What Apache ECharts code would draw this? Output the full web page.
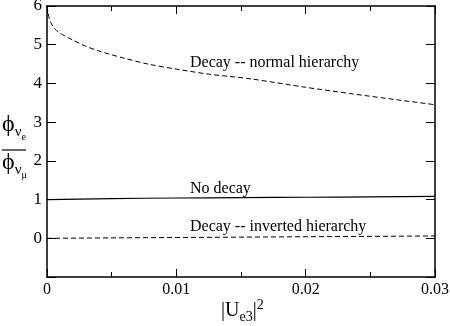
<!DOCTYPE html>
<html><head><meta charset="utf-8">
<script src="https://cdn.jsdelivr.net/npm/echarts@6/dist/echarts.min.js"></script>
<style>html,body{margin:0;padding:0;background:#fff}#c{width:450px;height:326px}</style>
</head><body><div id="c"></div>
<script>
var normalX = [0, 0.0001, 0.0002, 0.0005, 0.001, 0.002, 0.003, 0.004, 0.005, 0.006, 0.0078, 0.01, 0.0125, 0.0157, 0.02, 0.0234, 0.027, 0.03];
var normalY = [6.0, 5.8, 5.65, 5.45, 5.3, 5.12, 4.96, 4.84, 4.74, 4.65, 4.5, 4.37, 4.24, 4.12, 3.9, 3.74, 3.58, 3.45];
var noDecayX = [0, 0.005, 0.01, 0.015, 0.02, 0.025, 0.03];
var noDecayY = [1.0, 1.025, 1.04, 1.05, 1.06, 1.07, 1.08];
var invertedX = [0, 0.01, 0.02, 0.03];
var invertedY = [0.0, 0.02, 0.04, 0.06];
var xTicks = [0, 0.01, 0.02, 0.03];
var yTicks = [-1, 0, 1, 2, 3, 4, 5, 6];
var labels = ['Decay -- normal hierarchy', 'No decay', 'Decay -- inverted hierarchy'];

function pairs(xs, ys) { return xs.map(function (x, i) { return [x, ys[i]]; }); }
var font = 'Liberation Serif';
var chart = echarts.init(document.getElementById('c'));
var axisLine = { show: true, onZero: false, lineStyle: { color: '#000', width: 1.5 } };
var common = { min: 0, max: 0.03, interval: 0.01, splitLine: { show: false } };
var phiRich = {
  f: { fontFamily: font, fontSize: 24, fill: '#000' },
  n: { fontFamily: font, fontSize: 15, fill: '#000', padding: [14, 0, 0, 0] },
  e: { fontFamily: font, fontSize: 10, fill: '#000', padding: [24, 0, 0, 0] }
};
chart.setOption({
  animation: false,
  grid: { left: 47, right: 15, top: 6, bottom: 49, containLabel: false, outerBoundsMode: 'none' },
  xAxis: [
    Object.assign({ type: 'value', position: 'bottom', axisLine: axisLine,
      axisTick: { inside: true, length: 8, lineStyle: { color: '#000' } },
      minorTick: { show: true, splitNumber: 2, length: 5, lineStyle: { color: '#000' } },
      axisLabel: { color: '#000', fontFamily: font, fontSize: 16, margin: 5,
        formatter: function (v) { return xTicks.indexOf(+v.toFixed(3)) >= 0 ? (v === 0 ? '0' : v.toFixed(2)) : ''; } }
    }, common),
    Object.assign({ type: 'value', position: 'top', axisLine: axisLine,
      axisTick: { inside: true, length: 8, lineStyle: { color: '#000' } },
      minorTick: { show: true, splitNumber: 2, length: 5, lineStyle: { color: '#000' } },
      axisLabel: { show: false } }, common)
  ],
  yAxis: [
    { type: 'value', min: -1, max: 6, interval: 1, position: 'left', axisLine: axisLine, splitLine: { show: false },
      axisTick: { inside: true, length: 9, lineStyle: { color: '#000' } },
      axisLabel: { color: '#000', fontFamily: font, fontSize: 17, margin: 5,
        formatter: function (v) { return yTicks.indexOf(v) > 0 ? String(v) : ''; } } },
    { type: 'value', min: -1, max: 6, interval: 1, position: 'right', axisLine: axisLine, splitLine: { show: false },
      axisTick: { inside: true, length: 9, lineStyle: { color: '#000' } },
      axisLabel: { show: false } }
  ],
  series: [
    { type: 'line', data: pairs(normalX, normalY), smooth: 0.3, symbol: 'none',
      lineStyle: { color: '#000', width: 1, type: [5, 3] } },
    { type: 'line', data: pairs(noDecayX, noDecayY), smooth: true, symbol: 'none',
      lineStyle: { color: '#000', width: 1.2 } },
    { type: 'line', data: pairs(invertedX, invertedY), symbol: 'none',
      lineStyle: { color: '#000', width: 1, type: [5, 3] } }
  ],
  graphic: [
    { type: 'text', left: 190, top: 55, style: { text: labels[0], font: '16px "Liberation Serif"', fill: '#000' } },
    { type: 'text', left: 190, top: 181, style: { text: labels[1], font: '16px "Liberation Serif"', fill: '#000' } },
    { type: 'text', left: 190, top: 219, style: { text: labels[2], font: '16px "Liberation Serif"', fill: '#000' } },
    { type: 'text', left: 2, top: 113, style: { text: '{f|ϕ}{n|ν}{e|e}', rich: phiRich } },
    { type: 'line', shape: { x1: 2, y1: 150, x2: 26, y2: 150 }, style: { stroke: '#000', lineWidth: 1.2 } },
    { type: 'text', left: 2, top: 151, style: { text: '{f|ϕ}{n|ν}{e|μ}', rich: phiRich } },
    { type: 'text', left: 221, top: 298, style: { text: '{a||U}{s|e3}{a||}{p|2}', rich: {
        a: { fontFamily: font, fontSize: 20, fill: '#000', padding: [6, 0, 0, 0] },
        s: { fontFamily: font, fontSize: 14, fill: '#000', padding: [18, 0, 0, 0] },
        p: { fontFamily: font, fontSize: 14, fill: '#000', padding: [0, 0, 6, 0] } } } }
  ]
});
</script></body></html>
